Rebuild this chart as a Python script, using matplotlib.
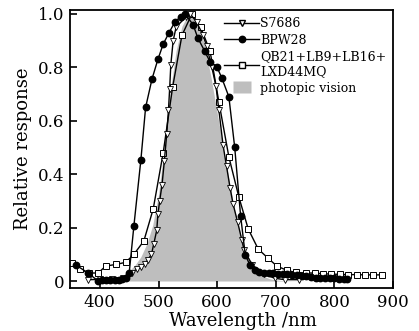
import matplotlib
matplotlib.use("Agg")
import matplotlib.pyplot as plt
from matplotlib.lines import Line2D

plt.rcParams['font.family'] = ['DejaVu Serif']

# photopic vision V(lambda)
wl_v = [380, 390, 400, 410, 420, 430, 440, 450, 460, 470, 480, 490, 500, 510,
        520, 530, 540, 550, 555, 560, 570, 580, 590, 600, 610, 620, 630, 640,
        650, 660, 670, 680, 690, 700, 710, 720, 730, 740, 750]
v_photopic = [0.0000, 0.0001, 0.0004, 0.0012, 0.004, 0.0116, 0.023, 0.038, 0.060,
              0.091, 0.139, 0.208, 0.323, 0.503, 0.710, 0.862, 0.954, 0.995, 1.0,
              0.995, 0.952, 0.870, 0.757, 0.631, 0.503, 0.381, 0.265, 0.175, 0.107,
              0.061, 0.032, 0.017, 0.008, 0.004, 0.002, 0.001, 0.0005, 0.0002, 0.0001]

# S7686
wl_s = [380, 400, 420, 440, 455, 463, 470, 477, 482, 488, 492, 497, 499, 502, 506,
        510, 514, 517, 519, 521, 525, 530, 547, 554, 565, 576, 582, 591, 598, 603,
        610, 616, 622, 627, 635, 642, 646, 660, 680, 699, 716, 740]
s7686 = [0.005, 0.006, 0.008, 0.012, 0.03, 0.045, 0.052, 0.065, 0.08, 0.10, 0.14,
         0.19, 0.25, 0.30, 0.36, 0.45, 0.55, 0.64, 0.72, 0.81, 0.90, 0.95, 0.99,
         1.0, 0.97, 0.92, 0.88, 0.80, 0.73, 0.64, 0.51, 0.43, 0.35, 0.29, 0.22,
         0.155, 0.115, 0.06, 0.025, 0.01, 0.005, 0.005]

# BPW28
wl_b = [359, 380, 397, 404, 411, 418, 425, 432, 438, 444, 450, 458, 470, 478, 489,
        499, 508, 518, 528, 538, 545, 559, 567, 579, 588, 600, 608, 620, 630, 640,
        648, 656, 665, 672, 680, 688, 696, 704, 712, 720, 728, 736, 744, 752, 760,
        768, 776, 784, 792, 800, 808, 816, 822]
bpw28 = [0.06, 0.03, 0.0, 0.002, 0.003, 0.004, 0.005, 0.005, 0.006, 0.01, 0.03,
         0.206, 0.455, 0.65, 0.757, 0.83, 0.887, 0.93, 0.97, 0.99, 1.0, 0.96, 0.91,
         0.86, 0.82, 0.80, 0.76, 0.69, 0.50, 0.245, 0.097, 0.06, 0.04, 0.033, 0.03,
         0.03, 0.03, 0.028, 0.028, 0.026, 0.024, 0.022, 0.02, 0.018, 0.015, 0.012,
         0.01, 0.01, 0.01, 0.01, 0.009, 0.008, 0.008]

# QB21+LB9+LB16+LXD44MQ
wl_q = [352, 366, 381, 397, 410, 427, 444, 458, 475, 491, 508, 524, 540, 557, 572,
        588, 603, 620, 637, 653, 670, 687, 702, 719, 734, 752, 767, 781, 795, 809,
        823, 838, 852, 866, 881]
qb21 = [0.068, 0.045, 0.03, 0.03, 0.056, 0.062, 0.07, 0.10, 0.15, 0.27, 0.48,
        0.725, 0.92, 1.0, 0.95, 0.86, 0.67, 0.465, 0.315, 0.195, 0.12, 0.085, 0.056,
        0.04, 0.032, 0.03, 0.03, 0.027, 0.026, 0.025, 0.024, 0.024, 0.023, 0.023,
        0.023]

fig = plt.figure(figsize=(4.19, 3.31), dpi=100)
ax = fig.add_axes([0.167, 0.130, 0.771, 0.840])

ax.fill_between(wl_v, v_photopic, 0, color='#bebebe', lw=0, zorder=1)
ax.plot(wl_s, s7686, color='black', lw=1.0, marker='v', ms=3.8,
        mfc='white', mec='black', mew=0.6, zorder=3)
ax.plot(wl_b, bpw28, color='black', lw=1.0, marker='o', ms=4.6,
        mfc='black', mec='black', zorder=4)
ax.plot(wl_q, qb21, color='black', lw=1.0, marker='s', ms=5,
        mfc='white', mec='black', mew=0.7, zorder=2)

ax.set_xlim(349, 900)
ax.set_ylim(-0.026, 1.015)
ax.set_xticks([400, 500, 600, 700, 800, 900])
ax.set_yticks([0, 0.2, 0.4, 0.6, 0.8, 1.0])
ax.set_yticklabels(['0', '0.2', '0.4', '0.6', '0.8', '1.0'])
ax.tick_params(direction='in', length=5, width=1.2, labelsize=12, pad=4)
for s in ax.spines.values():
    s.set_linewidth(1.3)

ax.set_xlabel('Wavelength /nm', fontsize=13)
ax.xaxis.set_label_coords(0.535, -0.085)
ax.set_ylabel('Relative response', fontsize=13, labelpad=4)

rect = [(-1.5, -1), (1.5, -1), (1.5, 1), (-1.5, 1), (-1.5, -1)]
handles = [
    Line2D([], [], color='black', lw=1.0, marker='v', ms=3.8, mfc='white', mec='black'),
    Line2D([], [], color='black', lw=1.0, marker='o', ms=4.6, mfc='black'),
    Line2D([], [], color='black', lw=1.0, marker='s', ms=5, mfc='white', mec='black'),
    Line2D([], [], ls='none', marker=rect, ms=12.5, mfc='#bebebe', mec='none'),
]
labels = ['S7686', 'BPW28', 'QB21+LB9+LB16+\nLXD44MQ', 'photopic vision']
ax.legend(handles, labels, loc='upper left', bbox_to_anchor=(0.462, 0.992),
          frameon=False, fontsize=9.0, handlelength=2.8, handletextpad=0.1,
          labelspacing=0.28, borderaxespad=0.0)

fig.savefig('out.png', dpi=100)
